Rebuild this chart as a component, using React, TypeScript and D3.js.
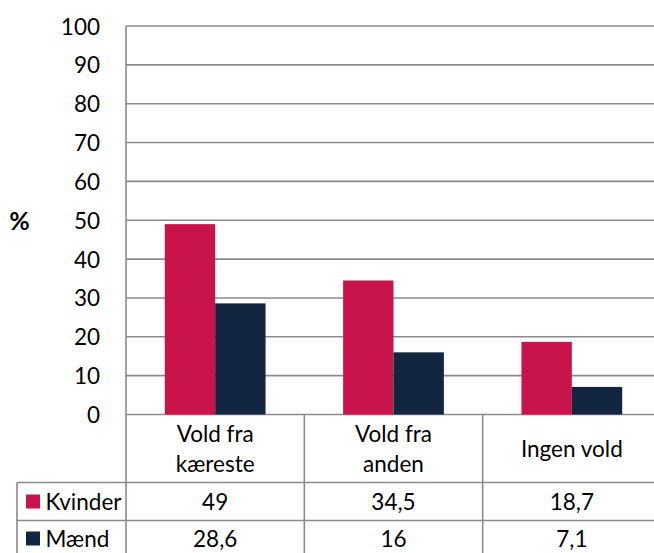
import React from "react";
import * as d3 from "d3";

const categories: string[][] = [["Vold fra", "kæreste"], ["Vold fra", "anden"], ["Ingen vold"]];
const seriesNames = ["Kvinder", "Mænd"];
const kvinder = [49, 34.5, 18.7];
const maend = [28.6, 16, 7.1];
const valueLabels = [["49", "34,5", "18,7"], ["28,6", "16", "7,1"]];
const yTicks = [0, 10, 20, 30, 40, 50, 60, 70, 80, 90, 100];
const colors = ["#C8144A", "#12263F"];

const W = 654;
const H = 553;
const FONT = "Lato, 'Open Sans', sans-serif";
const FS = 22.5;

export default function App() {
  const plotLeft = 126;
  const plotRight = 661;
  const y = d3.scaleLinear().domain([0, 100]).range([414.5, 26]);
  const x0 = d3.scaleBand<number>().domain([0, 1, 2]).range([plotLeft, plotRight]);
  const bw = x0.bandwidth();
  const x1 = d3.scaleBand<number>().domain([0, 1]).range([0, bw]).paddingOuter(0.77).paddingInner(0);
  const series = [kvinder, maend];
  const grid = "#8A8A8A";
  const row0 = y(0);
  const row1 = 482.5;
  const row2 = 520.5;
  const row3 = 560;
  const tableLeft = 17;

  return (
    <svg width={W} height={H} style={{ position: "fixed", left: 0, top: 0, background: "#fff" }} fontFamily={FONT}>
      <rect x={0} y={0} width={W} height={H} fill="#fff" />
      {yTicks.map((t) => (
        <g key={t}>
          <line x1={plotLeft} x2={plotRight} y1={y(t)} y2={y(t)} stroke={grid} strokeWidth={1.6} />
          <text x={100} y={y(t)} textAnchor="end" dominantBaseline="central" fontSize={FS} fill="#000">
            {t}
          </text>
        </g>
      ))}
      <text x={19.5} y={y(50)} textAnchor="middle" dominantBaseline="central" fontSize={25} fontWeight="bold" fill="#000">
        %
      </text>
      {series.map((vals, si) =>
        vals.map((v, ci) => (
          <rect
            key={`${si}-${ci}`}
            x={(x0(ci) as number) + (x1(si) as number)}
            y={y(v)}
            width={x1.bandwidth()}
            height={y(0) - y(v)}
            fill={colors[si]}
          />
        ))
      )}
      <line x1={plotLeft} x2={plotLeft} y1={y(100)} y2={H} stroke={grid} strokeWidth={1.6} />
      {[1, 2].map((i) => (
        <line key={i} x1={x0(i) as number} x2={x0(i) as number} y1={row0} y2={H} stroke={grid} strokeWidth={1.6} />
      ))}
      <line x1={tableLeft} x2={tableLeft} y1={row1} y2={H} stroke={grid} strokeWidth={1.6} />
      <line x1={tableLeft} x2={plotRight} y1={row1} y2={row1} stroke={grid} strokeWidth={1.6} />
      <line x1={tableLeft} x2={plotRight} y1={row2} y2={row2} stroke={grid} strokeWidth={1.6} />
      {categories.map((lines, ci) => {
        const cx = (x0(ci) as number) + bw / 2;
        const cy = (row0 + row1) / 2;
        const lh = 30;
        return (
          <text key={ci} textAnchor="middle" fontSize={FS} fill="#000">
            {lines.map((l, li) => (
              <tspan key={li} x={cx} y={cy + (li - (lines.length - 1) / 2) * lh} dominantBaseline="central">
                {l}
              </tspan>
            ))}
          </text>
        );
      })}
      {seriesNames.map((name, si) => {
        const top = si === 0 ? row1 : row2;
        const bottom = si === 0 ? row2 : row3;
        const cy = si === 0 ? (top + bottom) / 2 : 538.5;
        return (
          <g key={name}>
            <rect x={26} y={cy - 7} width={14} height={14} fill={colors[si]} />
            <text x={45.5} y={cy} dominantBaseline="central" fontSize={FS} fill="#000">
              {name}
            </text>
            {valueLabels[si].map((lab, ci) => (
              <text
                key={ci}
                x={(x0(ci) as number) + bw / 2}
                y={cy}
                textAnchor="middle"
                dominantBaseline="central"
                fontSize={FS}
                fill="#000"
              >
                {lab}
              </text>
            ))}
          </g>
        );
      })}
    </svg>
  );
}
